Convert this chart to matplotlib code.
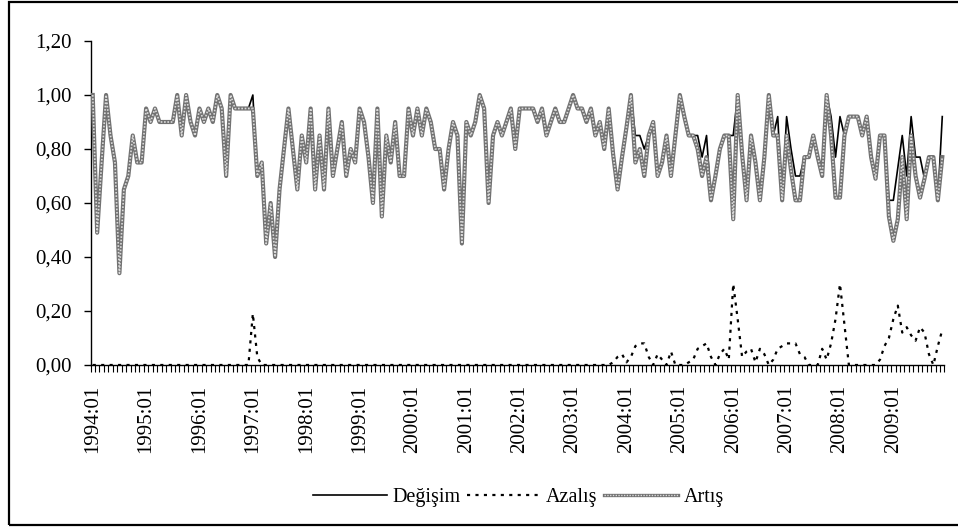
import numpy as np
import matplotlib
matplotlib.use('Agg')
import matplotlib.pyplot as plt
from matplotlib.patches import Rectangle
from matplotlib.lines import Line2D
from matplotlib.ticker import FuncFormatter

plt.rcParams['font.family'] = ['Liberation Serif', 'DejaVu Serif']

# monthly data, 1994:01 - 2009:12 (one row per year)
degisim = [
    1.00, 0.49, 0.75, 1.00, 0.85, 0.75, 0.34, 0.65, 0.70, 0.85, 0.75, 0.75,
    0.95, 0.90, 0.95, 0.90, 0.90, 0.90, 0.90, 1.00, 0.85, 1.00, 0.90, 0.85,
    0.95, 0.90, 0.95, 0.90, 1.00, 0.95, 0.70, 1.00, 0.95, 0.95, 0.95, 0.95,
    1.00, 0.70, 0.75, 0.45, 0.60, 0.40, 0.65, 0.80, 0.95, 0.80, 0.65, 0.85,
    0.75, 0.95, 0.65, 0.85, 0.65, 0.95, 0.70, 0.80, 0.90, 0.70, 0.80, 0.75,
    0.95, 0.90, 0.77, 0.60, 0.95, 0.55, 0.85, 0.75, 0.90, 0.70, 0.70, 0.95,
    0.85, 0.95, 0.85, 0.95, 0.90, 0.80, 0.80, 0.65, 0.80, 0.90, 0.85, 0.45,
    0.90, 0.85, 0.90, 1.00, 0.95, 0.60, 0.85, 0.90, 0.85, 0.90, 0.95, 0.80,
    0.95, 0.95, 0.95, 0.95, 0.90, 0.95, 0.85, 0.90, 0.95, 0.90, 0.90, 0.95,
    1.00, 0.95, 0.95, 0.90, 0.95, 0.85, 0.90, 0.80, 0.95, 0.78, 0.65, 0.77,
    0.88, 1.00, 0.85, 0.85, 0.80, 0.85, 0.90, 0.70, 0.75, 0.85, 0.70, 0.85,
    1.00, 0.92, 0.85, 0.85, 0.85, 0.77, 0.85, 0.61, 0.70, 0.80, 0.85, 0.85,
    0.85, 1.00, 0.78, 0.61, 0.85, 0.75, 0.61, 0.77, 1.00, 0.85, 0.92, 0.61,
    0.92, 0.80, 0.70, 0.70, 0.77, 0.77, 0.85, 0.77, 0.70, 1.00, 0.92, 0.77,
    0.92, 0.85, 0.92, 0.92, 0.92, 0.85, 0.92, 0.77, 0.69, 0.85, 0.85, 0.61,
    0.61, 0.73, 0.85, 0.70, 0.92, 0.77, 0.77, 0.69, 0.77, 0.77, 0.61, 0.92,
]

azalis = [
    0.00, 0.00, 0.00, 0.00, 0.00, 0.00, 0.00, 0.00, 0.00, 0.00, 0.00, 0.00,
    0.00, 0.00, 0.00, 0.00, 0.00, 0.00, 0.00, 0.00, 0.00, 0.00, 0.00, 0.00,
    0.00, 0.00, 0.00, 0.00, 0.00, 0.00, 0.00, 0.00, 0.00, 0.00, 0.00, 0.00,
    0.19, 0.03, 0.00, 0.00, 0.00, 0.00, 0.00, 0.00, 0.00, 0.00, 0.00, 0.00,
    0.00, 0.00, 0.00, 0.00, 0.00, 0.00, 0.00, 0.00, 0.00, 0.00, 0.00, 0.00,
    0.00, 0.00, 0.00, 0.00, 0.00, 0.00, 0.00, 0.00, 0.00, 0.00, 0.00, 0.00,
    0.00, 0.00, 0.00, 0.00, 0.00, 0.00, 0.00, 0.00, 0.00, 0.00, 0.00, 0.00,
    0.00, 0.00, 0.00, 0.00, 0.00, 0.00, 0.00, 0.00, 0.00, 0.00, 0.00, 0.00,
    0.00, 0.00, 0.00, 0.00, 0.00, 0.00, 0.00, 0.00, 0.00, 0.00, 0.00, 0.00,
    0.00, 0.00, 0.00, 0.00, 0.00, 0.00, 0.00, 0.00, 0.00, 0.01, 0.03, 0.04,
    0.01, 0.03, 0.07, 0.08, 0.08, 0.03, 0.00, 0.04, 0.02, 0.00, 0.05, 0.00,
    0.00, 0.00, 0.01, 0.02, 0.06, 0.07, 0.08, 0.03, 0.00, 0.04, 0.06, 0.02,
    0.30, 0.17, 0.03, 0.05, 0.06, 0.01, 0.06, 0.04, 0.00, 0.02, 0.06, 0.07,
    0.08, 0.08, 0.08, 0.04, 0.03, 0.00, 0.00, 0.00, 0.06, 0.02, 0.08, 0.17,
    0.30, 0.15, 0.00, 0.00, 0.00, 0.00, 0.00, 0.00, 0.00, 0.02, 0.07, 0.10,
    0.17, 0.22, 0.12, 0.14, 0.11, 0.09, 0.14, 0.12, 0.04, 0.00, 0.07, 0.13,
]

artis = [
    1.00, 0.49, 0.75, 1.00, 0.85, 0.75, 0.34, 0.65, 0.70, 0.85, 0.75, 0.75,
    0.95, 0.90, 0.95, 0.90, 0.90, 0.90, 0.90, 1.00, 0.85, 1.00, 0.90, 0.85,
    0.95, 0.90, 0.95, 0.90, 1.00, 0.95, 0.70, 1.00, 0.95, 0.95, 0.95, 0.95,
    0.95, 0.70, 0.75, 0.45, 0.60, 0.40, 0.65, 0.80, 0.95, 0.80, 0.65, 0.85,
    0.75, 0.95, 0.65, 0.85, 0.65, 0.95, 0.70, 0.80, 0.90, 0.70, 0.80, 0.75,
    0.95, 0.90, 0.77, 0.60, 0.95, 0.55, 0.85, 0.75, 0.90, 0.70, 0.70, 0.95,
    0.85, 0.95, 0.85, 0.95, 0.90, 0.80, 0.80, 0.65, 0.80, 0.90, 0.85, 0.45,
    0.90, 0.85, 0.90, 1.00, 0.95, 0.60, 0.85, 0.90, 0.85, 0.90, 0.95, 0.80,
    0.95, 0.95, 0.95, 0.95, 0.90, 0.95, 0.85, 0.90, 0.95, 0.90, 0.90, 0.95,
    1.00, 0.95, 0.95, 0.90, 0.95, 0.85, 0.90, 0.80, 0.95, 0.78, 0.65, 0.77,
    0.88, 1.00, 0.75, 0.80, 0.70, 0.85, 0.90, 0.70, 0.75, 0.85, 0.70, 0.85,
    1.00, 0.92, 0.85, 0.85, 0.80, 0.70, 0.77, 0.61, 0.70, 0.80, 0.85, 0.85,
    0.54, 1.00, 0.78, 0.61, 0.85, 0.75, 0.61, 0.77, 1.00, 0.85, 0.85, 0.61,
    0.85, 0.72, 0.61, 0.61, 0.77, 0.77, 0.85, 0.77, 0.70, 1.00, 0.85, 0.62,
    0.62, 0.85, 0.92, 0.92, 0.92, 0.85, 0.92, 0.77, 0.69, 0.85, 0.85, 0.55,
    0.46, 0.54, 0.77, 0.54, 0.85, 0.70, 0.62, 0.69, 0.77, 0.77, 0.61, 0.77,
]

years = list(range(1994, 2010))
tick_labels = ['%d:01' % y for y in years]

x = np.arange(len(degisim))

fig = plt.figure(figsize=(9.58, 5.28), dpi=100)
W, H = 958.0, 528.0
ax = fig.add_axes([90.5 / W, (H - 365) / H, 854 / W, 324 / H])

# lines
dots = (0, (1.4, 2.4))
ax.plot(x, degisim, color='black', lw=1.2, zorder=3)
ax.plot(x, azalis, color='black', lw=1.6, linestyle=dots, zorder=4)
ax.plot(x, artis, color='#727272', lw=3.0, zorder=5)
ax.plot(x, artis, color='#dadada', lw=1.2, linestyle=(0, (1, 1)), zorder=6)

ax.set_xlim(-0.5, len(x) - 0.5)
ax.set_ylim(0, 1.2)

# y axis
ax.set_yticks(np.arange(0, 1.21, 0.2))
ax.yaxis.set_major_formatter(FuncFormatter(lambda v, p: ('%.2f' % v).replace('.', ',')))
ax.tick_params(axis='y', direction='out', length=5, width=1, pad=8.5, labelsize=15)

# x axis: a tick between every month, label at each January
ax.set_xticks(np.arange(-0.5, len(x), 1))
ax.set_xticklabels([])
ax.set_xticks(np.arange(0, len(x), 12), minor=True)
ax.set_xticklabels(tick_labels, minor=True, rotation=90)
ax.tick_params(axis='x', which='major', direction='out', length=5, width=0.8)
ax.tick_params(axis='x', which='minor', length=0, pad=14, labelsize=15)

for s in ['top', 'right']:
    ax.spines[s].set_visible(False)
for s in ['left', 'bottom']:
    ax.spines[s].set_linewidth(1.0)

# legend
h1 = Line2D([], [], color='black', lw=1.2)
h2 = Line2D([], [], color='black', lw=1.6, linestyle=dots)
h3 = (Line2D([], [], color='#727272', lw=2.4),
      Line2D([], [], color='#dadada', lw=1.0, linestyle=(0, (1, 1))))
fig.legend([h1, h2, h3], ['Değişim', 'Azalış', 'Artış'],
           loc='center', bbox_to_anchor=(0.541, 0.057), ncol=3, frameon=False,
           fontsize=14.5, handlelength=3.7, handletextpad=0.25, columnspacing=0.3)

# outer frame
fig.patches.append(Rectangle((8.5 / W, 3 / H), 1.2, 523 / H, transform=fig.transFigure,
                             fill=False, edgecolor='black', lw=1.6))

fig.savefig('out.png', dpi=100)
